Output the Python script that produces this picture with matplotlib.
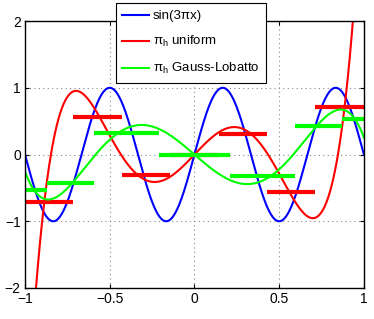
import numpy as np
import matplotlib
matplotlib.use("Agg")
import matplotlib.pyplot as plt
from numpy.polynomial import Chebyshev

plt.rcParams['font.family'] = ['Liberation Sans', 'DejaVu Sans']
plt.rcParams['mathtext.default'] = 'regular'

# sample abscissae for the curves (step 0.05)
x_samp = np.linspace(-1, 1, 41)

# values for x = 0, 0.05, ..., 1 ; all three curves are odd in x
blue_pos = [0, 0.454, 0.809, 0.988, 0.951, 0.707, 0.309, -0.156, -0.588, -0.891, -1,
            -0.891, -0.588, -0.156, 0.309, 0.707, 0.951, 0.988, 0.809, 0.454, 0]
red_pos = [0, 0.132, 0.251, 0.343, 0.399, 0.409, 0.368, 0.272, 0.125, -0.065, -0.286,
           -0.518, -0.731, -0.892, -0.954, -0.863, -0.555, 0.047, 1.031, 2.498, 4.56]
green_pos = [0, -0.108, -0.211, -0.300, -0.372, -0.420, -0.442, -0.434, -0.394, -0.323, -0.222,
             -0.095, 0.051, 0.208, 0.365, 0.506, 0.615, 0.671, 0.649, 0.521, 0.253]

def full(pos):
    pos = np.array(pos)
    return np.concatenate([-pos[:0:-1], pos])

blue_y = full(blue_pos)
red_y = full(red_pos)
green_y = full(green_pos)

# piecewise constant values: uniform cells and Gauss-Lobatto cells
red_edges = [-1, -0.714, -0.429, -0.143, 0.143, 0.429, 0.714, 1]
red_vals = [-0.706, 0.566, -0.314, 0, 0.314, -0.566, 0.706]
green_edges = [-1, -0.872, -0.592, -0.209, 0.209, 0.592, 0.872, 1]
green_vals = [-0.534, -0.422, 0.320, 0, -0.320, 0.422, 0.534]

fig = plt.figure(figsize=(3.74, 3.19), dpi=100)
ax = fig.add_axes([0.0668, 0.0972, 0.9062, 0.8368])

xx = np.linspace(-1, 1, 600)
ax.plot(xx, Chebyshev.fit(x_samp, blue_y, 17)(xx), color='#0000ff', lw=1.5, label='sin(3πx)')
ax.plot(xx, Chebyshev.fit(x_samp, red_y, 7)(xx), color='#ff0000', lw=1.5, label=r'$\pi_h$ uniform')
for i, v in enumerate(red_vals):
    ax.plot([red_edges[i], red_edges[i + 1]], [v, v], color='#ff0000', lw=3, solid_capstyle='butt')
ax.plot(xx, Chebyshev.fit(x_samp, green_y, 7)(xx), color='#00ff00', lw=1.5, label=r'$\pi_h$ Gauss-Lobatto')
for i, v in enumerate(green_vals):
    ax.plot([green_edges[i], green_edges[i + 1]], [v, v], color='#00ff00', lw=3, solid_capstyle='butt')

ax.set_xlim(-1, 1)
ax.set_ylim(-2, 2)
ax.set_xticks([-1, -0.5, 0, 0.5, 1])
ax.set_xticklabels(['\u22121', '\u22120.5', '0', '0.5', '1'])
ax.set_yticks([-2, -1, 0, 1, 2])
ax.set_yticklabels(['\u22122', '\u22121', '0', '1', '2'])
ax.tick_params(direction='in', length=3, labelsize=10, top=True, right=True, pad=3)
ax.grid(True, color='#888888', linestyle=(0, (1, 3)), lw=0.8)
for s in ax.spines.values():
    s.set_linewidth(1)
    s.set_color('black')

leg = ax.legend(loc='upper left', bbox_to_anchor=(0.2676, 1.066), borderaxespad=0,
                fontsize=9.5, fancybox=False, framealpha=1, edgecolor='black',
                handlelength=2.0, handletextpad=0.3, labelspacing=0.9, borderpad=0.5)
leg.get_frame().set_linewidth(0.8)
leg.set_zorder(5)

fig.savefig('out.png', dpi=100)
